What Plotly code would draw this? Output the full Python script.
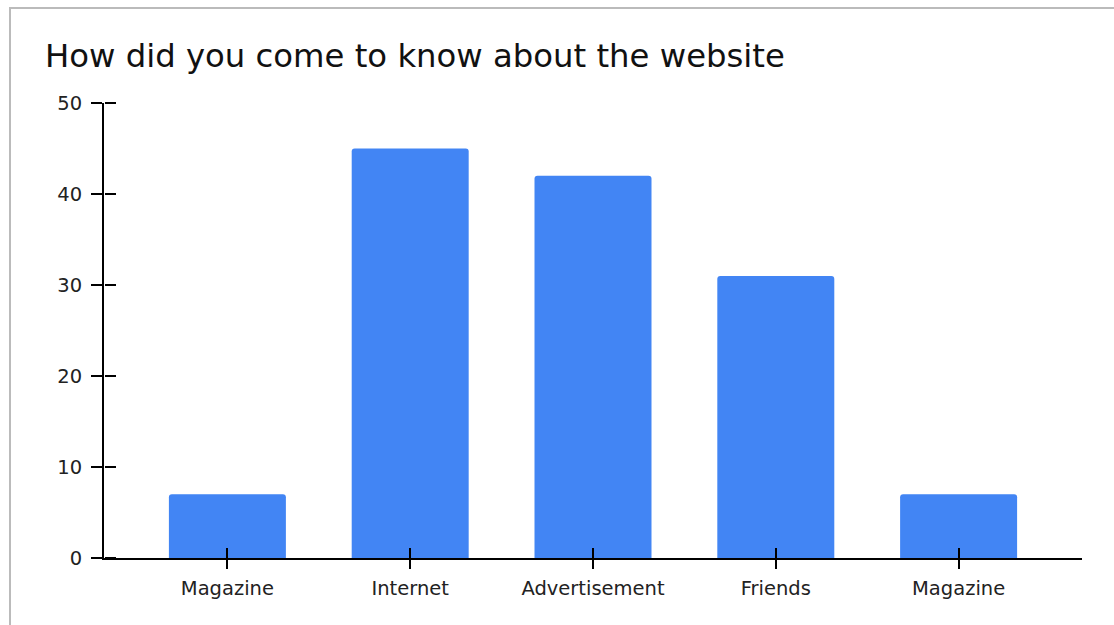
import plotly.graph_objects as go

# Survey responses per source
categories = ["Magazine", "Internet", "Advertisement", "Friends", "Magazine"]
responses = [7, 45, 42, 31, 7]
y_ticks = [0, 10, 20, 30, 40, 50]

positions = list(range(len(categories)))

W, H = 1114, 625
ML, MR, MT, MB = 104, 32, 103, 67
FONT = "DejaVu Sans, Arial, sans-serif"

fig = go.Figure()
fig.add_trace(go.Bar(
    x=positions,
    y=responses,
    width=0.64,
    marker=dict(color="#4285F4", cornerradius=3, line=dict(width=0)),
    hoverinfo="x+y",
))

x_range = [-0.675, len(categories) - 1 + 0.675]
y_range = [0, 50]

fig.update_layout(
    width=W,
    height=H,
    paper_bgcolor="white",
    plot_bgcolor="white",
    margin=dict(l=ML, r=MR, t=MT, b=MB),
    showlegend=False,
    font=dict(family=FONT, color="#222222"),
    title=dict(
        text="How did you come to know about the website",
        x=45 / W, xanchor="left", xref="container",
        y=1 - 56 / H, yanchor="middle", yref="container",
        font=dict(family=FONT, size=32.3, color="#111111"),
    ),
    xaxis=dict(
        range=x_range,
        tickmode="array",
        tickvals=positions,
        ticktext=categories,
        ticks="outside", ticklen=9, tickwidth=2, tickcolor="black",
        ticklabelstandoff=3,
        showline=True, linecolor="black", linewidth=2,
        showgrid=False, zeroline=False,
        tickfont=dict(size=19.5, color="#222222"),
    ),
    # Second x axis sitting on the same baseline, its outward ticks pointing up
    xaxis2=dict(
        range=x_range, overlaying="x",
        anchor="free", position=0, side="top",
        tickmode="array", tickvals=positions,
        ticks="outside", ticklen=10, tickwidth=2, tickcolor="black",
        showticklabels=False, showline=False, showgrid=False, zeroline=False,
    ),
    yaxis=dict(
        range=y_range,
        tickmode="array",
        tickvals=y_ticks,
        ticks="outside", ticklen=11, tickwidth=2, tickcolor="black",
        ticklabelstandoff=5,
        showline=True, linecolor="black", linewidth=2,
        showgrid=False, zeroline=False,
        tickfont=dict(size=19.5, color="#222222"),
    ),
    # Second y axis on the same vertical line, its outward ticks pointing right
    yaxis2=dict(
        range=y_range, overlaying="y",
        anchor="free", position=0, side="right",
        tickmode="array", tickvals=y_ticks,
        ticks="outside", ticklen=11, tickwidth=2, tickcolor="black",
        showticklabels=False, showline=False, showgrid=False, zeroline=False,
    ),
)

# Invisible trace to bring the secondary axes into the figure
fig.add_trace(go.Scatter(x=[positions[0]], y=[0], xaxis="x2", yaxis="y2",
                         mode="markers", marker=dict(opacity=0),
                         hoverinfo="skip", showlegend=False))

# Grey frame along the top and left edges of the card
plot_w = W - ML - MR
plot_h = H - MT - MB
fig.add_shape(
    type="rect", xref="paper", yref="paper",
    x0=(10 - ML) / plot_w, x1=(W + 20 - ML) / plot_w,
    y0=-(H + 20 - (H - MB)) / plot_h, y1=((H - MB) - 8) / plot_h,
    line=dict(color="#BBBBBB", width=2), fillcolor="rgba(0,0,0,0)",
    layer="below",
)

fig.write_html("out.html")
